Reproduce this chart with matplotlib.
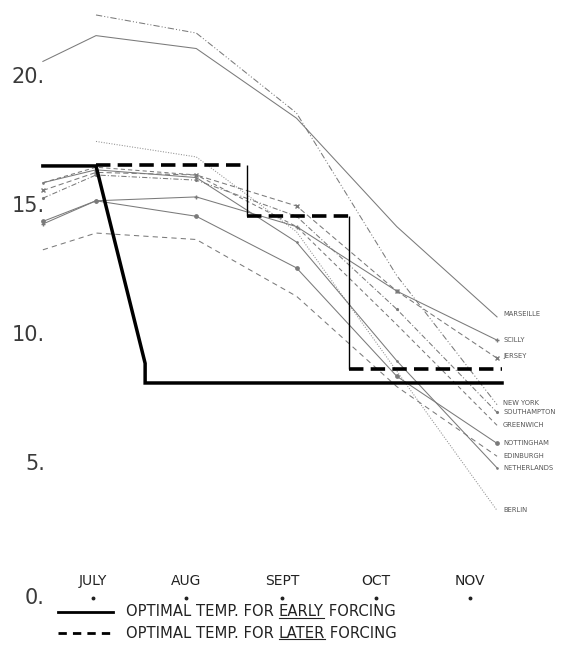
import numpy as np
import matplotlib.pyplot as plt
from matplotlib.lines import Line2D

nan = np.nan

# month positions of the plotted points (first point is the half month before July)
x_pts = [0.47, 1, 2, 3, 4, 5]
months = ['JULY', 'AUG', 'SEPT', 'OCT', 'NOV']
month_pos = [0.97, 1.9, 2.86, 3.79, 4.73]

# mean temperatures (deg C)
marseille = [20.6, 21.6, 21.1, 18.4, 14.2, 10.7]
new_york = [nan, 22.4, 21.7, 18.6, 12.3, 7.3]
berlin = [nan, 17.5, 16.9, 14.0, 8.6, 3.2]
scilly = [14.3, 15.2, 15.35, 14.2, 11.7, 9.8]
jersey = [15.6, 16.3, 16.2, 15.0, 11.7, 9.1]
southampton = [15.3, 16.2, 16.0, 14.6, 11.0, 7.0]
greenwich = [15.9, 16.5, 16.2, 14.2, 10.4, 6.5]
nottingham = [14.4, 15.2, 14.6, 12.6, 8.4, 5.8]
edinburgh = [13.3, 13.95, 13.7, 11.5, 8.0, 5.3]
netherlands = [15.9, 16.4, 16.1, 13.6, 9.0, 4.85]

# optimal temperature for early forcing
early_x = [0.47, 1, 1.49, 1.49, 5.05]
early_t = [16.55, 16.55, 8.9, 8.14, 8.14]
# optimal temperature for later forcing (steps)
later_edges = [1, 2.51, 3.52, 5.05]
later_t = [16.6, 14.6, 8.7]

station_labels = ['MARSEILLE', 'SCILLY', 'JERSEY', 'NEW YORK', 'SOUTHAMPTON',
                  'GREENWICH', 'NOTTINGHAM', 'EDINBURGH', 'NETHERLANDS', 'BERLIN']
label_t = [10.8, 9.8, 9.2, 7.35, 7.0, 6.5, 5.8, 5.3, 4.85, 3.2]

yticks = [0, 5, 10, 15, 20]

fig = plt.figure(figsize=(5.61, 6.47), dpi=100)
ax = fig.add_axes([0, 0, 1, 1])
ax.set_xlim(0.0424, 5.638)
ax.set_ylim(-2.09, 22.98)
ax.axis('off')

g = '#7a7a7a'
lw = 0.75
ax.plot(x_pts, marseille, color=g, lw=lw)
ax.plot(x_pts, new_york, color=g, lw=lw, ls=(0, (6, 2, 1, 2, 1, 2)))
ax.plot(x_pts, berlin, color='#909090', lw=lw, ls=(0, (1, 1.5)))
ax.plot(x_pts, scilly, color=g, lw=lw, marker='+', ms=3.5)
ax.plot(x_pts, jersey, color=g, lw=lw, ls=(0, (5, 3)), marker='x', ms=2.5)
ax.plot(x_pts, southampton, color=g, lw=lw, ls=(0, (5, 2, 1, 2)), marker='.', ms=2.5)
ax.plot(x_pts, greenwich, color=g, lw=lw, ls=(0, (4, 3)))
ax.plot(x_pts, nottingham, color=g, lw=lw, marker='o', ms=2.4)
ax.plot(x_pts, edinburgh, color=g, lw=lw, ls=(0, (5, 4)))
ax.plot(x_pts, netherlands, color=g, lw=lw, marker='.', ms=1.8)

# optimal lines
ax.plot(early_x, early_t, color='black', lw=2.5, solid_joinstyle='miter')
ax.hlines(later_t, later_edges[:-1], later_edges[1:], color='black', lw=2.6,
          linestyles=(0, (4, 2)))
ax.vlines(later_edges[1:-1], later_t[1:], later_t[:-1], color='black', lw=1.0)

for name, t in zip(station_labels, label_t):
    ax.text(5.06, t, name, fontsize=4.9, color='#555', va='center', ha='left')

for v in yticks:
    ax.text(0.49, v - (0.2 if v == 0 else 0), f'{v}.', fontsize=15, color='#3a3a3a',
            ha='right', va='center')

for m, p in zip(months, month_pos):
    ax.text(p, 0.47, m, fontsize=10, color='#222', ha='center', va='center')
ax.plot(month_pos, [-0.2] * len(month_pos), 'o', color='#222', ms=1.8)

# legend rows
leg_y = [-0.72, -1.56]
ax.plot([0.62, 1.17], [leg_y[0]] * 2, color='black', lw=2.0)
ax.plot([0.62, 1.17], [leg_y[1]] * 2, color='black', lw=2.0, ls=(0, (3, 2.2)))

rows = [('OPTIMAL TEMP. FOR ', 'EARLY', ' FORCING'),
        ('OPTIMAL TEMP. FOR ', 'LATER', ' FORCING')]
under = []
for (a, b, c), y in zip(rows, leg_y):
    ta = ax.text(1.3, y, a, fontsize=10.6, color='#222', ha='left', va='center')
    tb = ax.annotate(b, xy=(1, 0), xycoords=ta, fontsize=10.6, color='#222',
                     ha='left', va='bottom')
    ax.annotate(c, xy=(1, 0), xycoords=tb, fontsize=10.6, color='#222',
                ha='left', va='bottom')
    under.append(tb)

fig.canvas.draw()
W, H = fig.bbox.width, fig.bbox.height
for tb in under:
    bb = tb.get_window_extent()
    yy = bb.y0 + 1.5
    fig.add_artist(Line2D([bb.x0 / W, bb.x1 / W], [yy / H, yy / H],
                          color='#222', lw=0.8))

fig.savefig('out.png', dpi=100)
